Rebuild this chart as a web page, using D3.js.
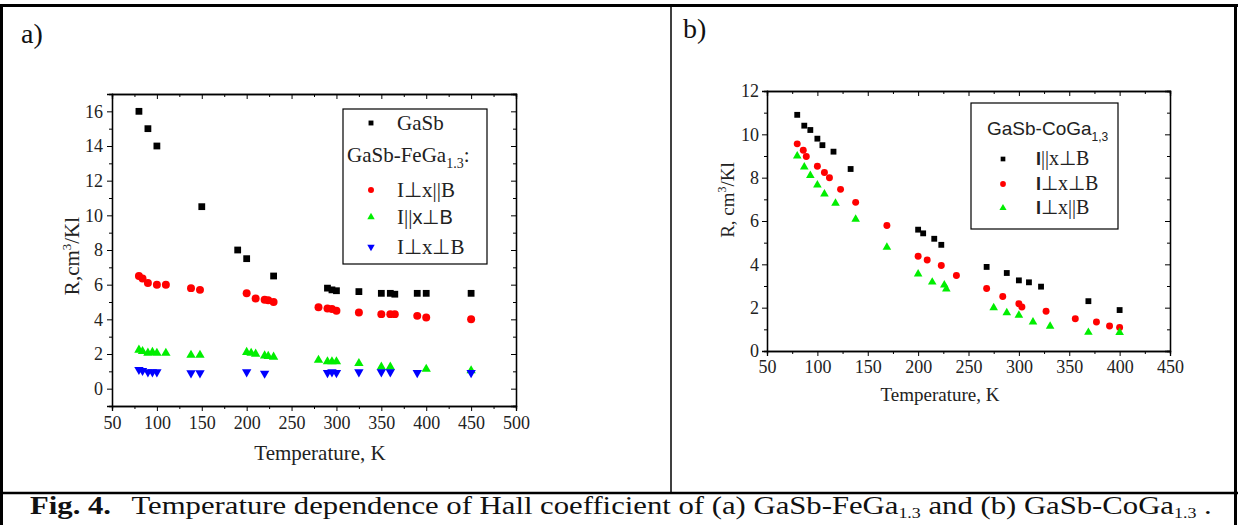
<!DOCTYPE html>
<html>
<head>
<meta charset="utf-8">
<script src="https://cdn.jsdelivr.net/npm/d3@7"></script>
<style>
  body { margin: 0; background: #fff; }
  svg { display: block; font-family: "Liberation Serif", "Times New Roman", serif; }
  .tick text { font-family: "Liberation Serif", "Times New Roman", serif; }
</style>
</head>
<body>
<svg id="fig" width="1238" height="525"></svg>
<script>
// ---- panel a: GaSb-FeGa1.3 ----
const tempA_GaSb = [80, 90, 100, 150, 190, 200, 230, 290, 295, 300, 325, 350, 360, 365, 390, 400, 450];
const rA_GaSb = [16, 15, 14, 10.5, 8, 7.5, 6.5, 5.8, 5.7, 5.65, 5.6, 5.5, 5.5, 5.45, 5.5, 5.5, 5.5];

const tempA_perpPar = [80, 84, 90, 100, 110, 138, 148, 200, 210, 220, 224, 230, 280, 290, 295, 300, 325, 350, 360, 365, 390, 400, 450];
const rA_perpPar = [6.5, 6.35, 6.1, 6.0, 6.0, 5.8, 5.7, 5.5, 5.2, 5.13, 5.1, 5.0, 4.7, 4.63, 4.6, 4.5, 4.4, 4.3, 4.3, 4.3, 4.2, 4.1, 4.0];

const tempA_parPerp = [80, 84, 90, 95, 100, 110, 138, 148, 200, 205, 210, 220, 224, 230, 280, 290, 295, 300, 325, 350, 360, 400, 450];
const rA_parPerp = [2.23, 2.15, 2.06, 2.1, 2.05, 2.05, 1.94, 1.94, 2.1, 2.05, 2.0, 1.9, 1.87, 1.83, 1.65, 1.56, 1.56, 1.56, 1.46, 1.25, 1.25, 1.13, 1.04];

const tempA_perpPerp = [80, 84, 90, 95, 100, 138, 148, 200, 220, 290, 295, 300, 325, 350, 360, 390, 450];
const rA_perpPerp = [1.1, 1.04, 0.96, 0.96, 0.96, 0.9, 0.9, 0.96, 0.88, 0.92, 0.96, 0.92, 0.96, 0.96, 0.96, 0.92, 0.92];

// ---- panel b: GaSb-CoGa1,3 ----
const tempB_parPerp = [80, 87, 93, 100, 105, 116, 133, 200, 205, 216, 223, 268, 288, 300, 310, 322, 369, 400];
const rB_parPerp = [10.9, 10.4, 10.2, 9.8, 9.5, 9.2, 8.4, 5.6, 5.43, 5.18, 4.9, 3.88, 3.6, 3.26, 3.17, 2.97, 2.3, 1.89];

const tempB_perpPerp = [80, 86, 89, 100, 107, 112, 123, 138, 169, 200, 209, 223, 238, 268, 284, 300, 303, 327, 356, 377, 390, 400];
const rB_perpPerp = [9.56, 9.27, 8.98, 8.53, 8.24, 8.0, 7.46, 6.86, 5.79, 4.37, 4.2, 3.95, 3.48, 2.88, 2.52, 2.18, 2.03, 1.83, 1.49, 1.34, 1.15, 1.08];

const tempB_perpPar = [80, 87, 93, 100, 107, 118, 138, 169, 200, 214, 226, 228, 275, 288, 300, 314, 331, 369, 400];
const rB_perpPar = [9.0, 8.49, 8.1, 7.66, 7.25, 6.82, 6.08, 4.79, 3.55, 3.18, 3.05, 2.86, 2.0, 1.77, 1.65, 1.34, 1.14, 0.86, 0.85];

// tick labels
const xTicksA = [50, 100, 150, 200, 250, 300, 350, 400, 450, 500];
const yTicksA = [0, 2, 4, 6, 8, 10, 12, 14, 16];
const xTicksB = [50, 100, 150, 200, 250, 300, 350, 400, 450];
const yTicksB = [0, 2, 4, 6, 8, 10, 12];

const svg = d3.select("#fig");
const SERIF = '"Liberation Serif", "Times New Roman", serif';
const SANS = '"Liberation Sans", Arial, sans-serif';

// frame of the figure
const frame = svg.append("g").attr("stroke", "#000").attr("fill", "none");
frame.append("line").attr("x1", 0).attr("x2", 1238).attr("y1", 5.5).attr("y2", 5.5).attr("stroke-width", 3);
frame.append("line").attr("x1", 1.5).attr("x2", 1.5).attr("y1", 4).attr("y2", 525).attr("stroke-width", 3);
frame.append("line").attr("x1", 1235.5).attr("x2", 1235.5).attr("y1", 4).attr("y2", 525).attr("stroke-width", 3);
frame.append("line").attr("x1", 671).attr("x2", 671).attr("y1", 5).attr("y2", 493).attr("stroke-width", 1.5);
frame.append("line").attr("x1", 0).attr("x2", 1238).attr("y1", 493).attr("y2", 493).attr("stroke-width", 2.5);

function sym(type, size) {
  return d3.symbol().type(type).size(size)();
}

function drawAxes(x, y, xTicks, yTicks, xMinor, yMinor, opts) {
  const [x0, x1] = x.range();
  const [y0, y1] = y.range();
  const g = svg.append("g");

  const fmt = d => d;
  // bottom
  g.append("g").attr("transform", `translate(0,${y0})`)
    .call(d3.axisBottom(x).tickValues(xTicks).tickFormat(fmt).tickSize(5).tickPadding(opts.xPad));
  g.append("g").attr("transform", `translate(0,${y0})`)
    .call(d3.axisBottom(x).tickValues(xMinor).tickFormat("").tickSize(3));
  // top
  g.append("g").attr("transform", `translate(0,${y1})`)
    .call(d3.axisTop(x).tickValues(xTicks).tickFormat("").tickSize(-5));
  g.append("g").attr("transform", `translate(0,${y1})`)
    .call(d3.axisTop(x).tickValues(xMinor).tickFormat("").tickSize(-3));
  // left
  g.append("g").attr("transform", `translate(${x0},0)`)
    .call(d3.axisLeft(y).tickValues(yTicks).tickFormat(fmt).tickSize(5).tickPadding(opts.yPad));
  g.append("g").attr("transform", `translate(${x0},0)`)
    .call(d3.axisLeft(y).tickValues(yMinor).tickFormat("").tickSize(3));
  // right
  g.append("g").attr("transform", `translate(${x1},0)`)
    .call(d3.axisRight(y).tickValues(yTicks).tickFormat("").tickSize(-5));
  g.append("g").attr("transform", `translate(${x1},0)`)
    .call(d3.axisRight(y).tickValues(yMinor).tickFormat("").tickSize(-3));

  g.selectAll("g").attr("font-family", null).attr("font-size", null);
  g.selectAll(".domain").attr("stroke", "#000").attr("stroke-width", 1.3);
  g.selectAll(".tick line").attr("stroke", "#000").attr("stroke-width", 1);
  g.selectAll("text")
    .style("font-family", SERIF)
    .style("font-size", opts.tickFont + "px")
    .attr("fill", "#222");
  return g;
}

function drawPoints(x, y, xs, ys, type, size, color, rotate) {
  svg.append("g").selectAll("path")
    .data(xs.map((t, i) => ({ t, r: ys[i] })))
    .enter()
    .append("path")
    .attr("d", d3.symbol().type(type).size(size))
    .attr("transform", d => `translate(${x(d.t)},${y(d.r)})${rotate ? " rotate(180)" : ""}`)
    .attr("fill", color);
}

// ================= panel a =================
const xA = d3.scaleLinear().domain([50, 500]).range([112, 516]);
const yA = d3.scaleLinear().domain([-1, 17]).range([406, 94]);

drawAxes(xA, yA, xTicksA, yTicksA,
  d3.range(75, 500, 50), d3.range(-1, 17.5, 2),
  { xPad: 5, yPad: 4, tickFont: 18 });

drawPoints(xA, yA, tempA_GaSb, rA_GaSb, d3.symbolSquare, 46, "#000");
drawPoints(xA, yA, tempA_perpPar, rA_perpPar, d3.symbolCircle, 50, "#ff0000");
drawPoints(xA, yA, tempA_parPerp, rA_parPerp, d3.symbolTriangle, 38, "#00ee00");
drawPoints(xA, yA, tempA_perpPerp, rA_perpPerp, d3.symbolTriangle, 38, "#0000ff", true);

svg.append("text").attr("x", 320).attr("y", 460)
  .attr("text-anchor", "middle").attr("font-size", 21).attr("fill", "#222")
  .text("Temperature, K");

const ylabA = svg.append("text")
  .attr("transform", "translate(79,256) rotate(-90)")
  .attr("text-anchor", "middle").attr("font-size", 21).attr("fill", "#222");
ylabA.append("tspan").text("R,cm");
ylabA.append("tspan").attr("dy", -8).attr("font-size", 13).text("3");
ylabA.append("tspan").attr("dy", 8).text("/Kl");

svg.append("text").attr("x", 21).attr("y", 43).attr("font-size", 28).attr("fill", "#111").text("a)");

// legend a
const legA = svg.append("g");
legA.append("rect").attr("x", 343).attr("y", 109).attr("width", 144).attr("height", 155)
  .attr("fill", "#fff").attr("stroke", "#000").attr("stroke-width", 1.2);
legA.append("path").attr("d", sym(d3.symbolSquare, 24)).attr("transform", "translate(371,123)").attr("fill", "#000");
legA.append("path").attr("d", sym(d3.symbolCircle, 28)).attr("transform", "translate(371,190)").attr("fill", "#ff0000");
legA.append("path").attr("d", sym(d3.symbolTriangle, 24)).attr("transform", "translate(371,217)").attr("fill", "#00ee00");
legA.append("path").attr("d", sym(d3.symbolTriangle, 24)).attr("transform", "translate(371,247) rotate(180)").attr("fill", "#0000ff");

const legTextA = legA.append("g").attr("font-size", 21).attr("fill", "#222");
legTextA.append("text").attr("x", 397).attr("y", 130).text("GaSb");
const tA = legTextA.append("text").attr("x", 347).attr("y", 162);
tA.append("tspan").text("GaSb-FeGa");
tA.append("tspan").attr("dy", 6).attr("font-size", 14).text("1.3");
tA.append("tspan").attr("dy", -6).text(":");
legTextA.append("text").attr("x", 397).attr("y", 197).text("I\u22A5x||B");
const t2 = legTextA.append("text").attr("x", 397).attr("y", 224);
t2.append("tspan").text("I||");
t2.append("tspan").attr("font-family", SANS).attr("font-size", 20).text("x\u22A5B");
legTextA.append("text").attr("x", 397).attr("y", 254).text("I\u22A5x\u22A5B");

// ================= panel b =================
const xB = d3.scaleLinear().domain([50, 450]).range([767, 1170]);
const yB = d3.scaleLinear().domain([0, 12]).range([351, 91]);

drawAxes(xB, yB, xTicksB, yTicksB,
  d3.range(75, 450, 50), d3.range(1, 12, 2),
  { xPad: 4, yPad: 3, tickFont: 18 });

drawPoints(xB, yB, tempB_parPerp, rB_parPerp, d3.symbolSquare, 34, "#000");
drawPoints(xB, yB, tempB_perpPerp, rB_perpPerp, d3.symbolCircle, 38, "#ff0000");
drawPoints(xB, yB, tempB_perpPar, rB_perpPar, d3.symbolTriangle, 32, "#00ee00");

svg.append("text").attr("x", 940).attr("y", 401)
  .attr("text-anchor", "middle").attr("font-size", 19).attr("fill", "#222")
  .text("Temperature, K");

const ylabB = svg.append("text")
  .attr("transform", "translate(734,200) rotate(-90)")
  .attr("text-anchor", "middle").attr("font-size", 19).attr("fill", "#222");
ylabB.append("tspan").text("R, cm");
ylabB.append("tspan").attr("dy", -8).attr("font-size", 12).text("3");
ylabB.append("tspan").attr("dy", 8).text("/Kl");

svg.append("text").attr("x", 683).attr("y", 38).attr("font-size", 28).attr("fill", "#111").text("b)");

// legend b
const legB = svg.append("g");
legB.append("rect").attr("x", 971).attr("y", 103).attr("width", 147).attr("height", 126)
  .attr("fill", "#fff").attr("stroke", "#000").attr("stroke-width", 1.2);
const tB = legB.append("text").attr("x", 987).attr("y", 135)
  .attr("font-family", SANS).attr("font-size", 19).attr("fill", "#222");
tB.append("tspan").text("GaSb-CoGa");
tB.append("tspan").attr("dy", 6).attr("font-size", 12).text("1,3");

legB.append("path").attr("d", sym(d3.symbolSquare, 22)).attr("transform", "translate(1003,159)").attr("fill", "#000");
legB.append("path").attr("d", sym(d3.symbolCircle, 26)).attr("transform", "translate(1003,184)").attr("fill", "#ff0000");
legB.append("path").attr("d", sym(d3.symbolTriangle, 22)).attr("transform", "translate(1003,208)").attr("fill", "#00ee00");

const legLabelsB = ["||x\u22A5B", "\u22A5x\u22A5B", "\u22A5x||B"];
legLabelsB.forEach((s, i) => {
  const t = legB.append("text").attr("x", 1036).attr("y", 165 + i * 24.5)
    .attr("font-size", 20).attr("fill", "#222");
  t.append("tspan").attr("font-family", SANS)
    .attr("font-weight", "bold").attr("font-size", 18).text("I");
  t.append("tspan").text(s);
});

// ================= caption =================
const capY = 514;
const capG = svg.append("g");
const cap = capG.append("text").attr("x", 30).attr("y", capY).attr("font-size", 24).attr("fill", "#111");
cap.append("tspan").attr("font-weight", "bold").text("Fig. 4.");
cap.append("tspan").attr("dx", 16).text("Temperature dependence of Hall coefficient of (a) GaSb-FeGa");
cap.append("tspan").attr("dy", 4).attr("font-size", 14).text("1.3");
cap.append("tspan").attr("dy", -4).text(" and (b) GaSb-CoGa");
cap.append("tspan").attr("dy", 4).attr("font-size", 14).text("1.3");
cap.append("tspan").attr("dy", -4).text(" .");
// the caption is set in a tall, narrow face: fit its width and stretch it a little upward
const capW = cap.node().getBBox().width;
const capS = 1182 / capW;
capG.attr("transform", `translate(30,${capY}) scale(${capS},1.08) translate(-30,${-capY})`);
</script>
</body>
</html>
